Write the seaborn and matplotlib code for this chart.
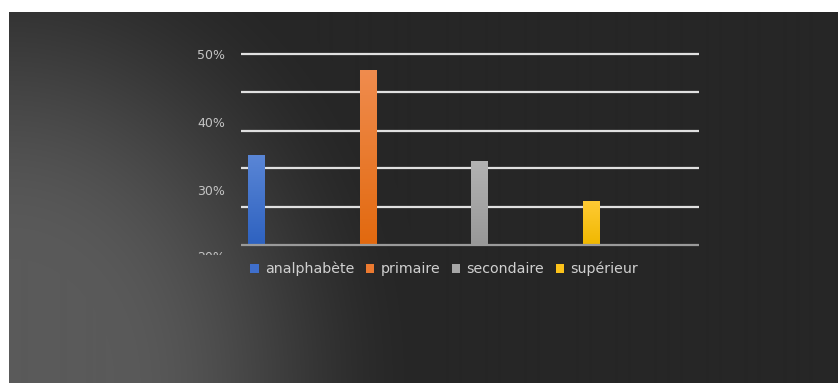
import numpy as np
import pandas as pd
import matplotlib
matplotlib.use("Agg")
import matplotlib.pyplot as plt
import seaborn as sns
from matplotlib.colors import to_rgb
from matplotlib.transforms import Bbox

# Niveaux d'instruction et parts (%)
categories = ["analphabète", "primaire", "secondaire", "supérieur"]
valeurs = [35.2, 47.7, 34.2, 28.4]
couleurs = ["#3f6fcc", "#ec7a30", "#a6a6a6", "#fcc21a"]
# Teintes haut / bas du dégradé de chaque barre
haut = ["#5a86d6", "#f08c4e", "#b2b2b2", "#ffcb35"]
bas = ["#2e62c0", "#e2690f", "#989898", "#f0b800"]

# Graduations affichées et lignes de quadrillage
graduations = [20, 30, 40, 50]
etiquettes = ["20%", "30%", "40%", "50%"]
quadrillage = [50.0, 44.49, 38.74, 33.20, 27.45]
base = 21.89

W, H, DPI = 838, 383, 100
sns.set_theme(style="white")
plt.rcParams["font.family"] = ["DejaVu Sans"]

fig = plt.figure(figsize=(W / DPI, H / DPI), dpi=DPI, facecolor="white")

# Fond sombre en dégradé, plus clair vers le coin inférieur gauche
x0, y0 = 9, 12
bw, bh = W - x0, H - y0
bg = fig.add_axes([x0 / W, 0, bw / W, bh / H])
cols = np.arange(bw)[None, :].astype(float)
rows = np.arange(bh)[:, None].astype(float)
dx = cols
dy = (H - (y0 + rows))
d = np.sqrt((dx / 420.0) ** 2 + (dy / 500.0) ** 2)
t = np.clip((d - 0.25) / 0.75, 0, 1)
t = t * t * (3 - 2 * t)
g = (90 - 52 * t) / 255.0
img = np.dstack([g, g, g])
bg.imshow(img, aspect="auto", extent=[0, 1, 0, 1], interpolation="bilinear")
bg.set_axis_off()

# Zone de tracé
left, right = 241, 699
top, bottom = 54.3, 245
ax = fig.add_axes([left / W, (H - bottom) / H, (right - left) / W, (bottom - top) / H])
ax.patch.set_alpha(0)

df = pd.DataFrame({"niveau": categories, "part": valeurs})
sns.barplot(data=df, x="niveau", y="part", hue="niveau", order=categories,
            hue_order=categories, palette=couleurs, width=0.15, dodge=False,
            saturation=1, legend=True, ax=ax, zorder=3,
            edgecolor="none", linewidth=0)

xmin, xmax = -0.139, 3.969
ax.set_xlim(xmin, xmax)
ax.set_ylim(base, 50)

# Dégradé vertical dans chaque barre
for p, c_haut, c_bas in zip(ax.patches[:len(categories)], haut, bas):
    bx, by = p.get_x(), p.get_y()
    pw, ph = p.get_width(), p.get_height()
    y_lo = max(by, base)
    y_hi = by + ph
    n = 64
    f = np.linspace(0, 1, n)[:, None]
    grad = (1 - f) * np.array(to_rgb(c_haut)) + f * np.array(to_rgb(c_bas))
    grad = grad[:, None, :]
    im = ax.imshow(grad, extent=[bx, bx + pw, y_lo, y_hi], aspect="auto",
                   zorder=3.5, interpolation="bilinear")
    im.set_clip_path(p)

ax.set_xlim(xmin, xmax)
ax.set_ylim(base, 50)

ax.hlines(quadrillage, xmin, xmax, colors="#e0e0e0", linewidth=1.6,
          zorder=1, clip_on=False)
ax.hlines([base], xmin, xmax, colors="#9a9a9a", linewidth=1.6,
          zorder=4, clip_on=False)

for s in ax.spines.values():
    s.set_visible(False)
ax.set_xlabel("")
ax.set_ylabel("")
ax.set_xticks([])
ax.set_yticks([g_ for g_ in graduations if g_ >= base])
ax.set_yticklabels([e for g_, e in zip(graduations, etiquettes) if g_ >= base])
ax.tick_params(axis="y", length=0, pad=11.5, labelsize=9, labelcolor="#c4c4c4")

# Étiquette 20 % en partie masquée sous la zone de tracé
lab = ax.text(xmin - 16 / 111.5, 20, "20%", ha="right", va="center",
              fontsize=9, color="#c4c4c4", clip_on=True)
lab.set_clip_box(Bbox.from_extents(0, H - 254.8, W, H))

# Légende
handles, labels = ax.get_legend_handles_labels()
ax.get_legend().remove()
for h in handles:
    h.set_edgecolor("none")
fig.legend(handles, labels, loc="center left",
           bbox_to_anchor=(250 / W, (H - 269) / H), ncol=4, frameon=False,
           handlelength=0.6, handleheight=0.6, handletextpad=0.45,
           columnspacing=0.8, fontsize=10.2, labelcolor="#d0d0d0",
           borderaxespad=0, borderpad=0)

fig.savefig("out.png", dpi=DPI, facecolor="white")
